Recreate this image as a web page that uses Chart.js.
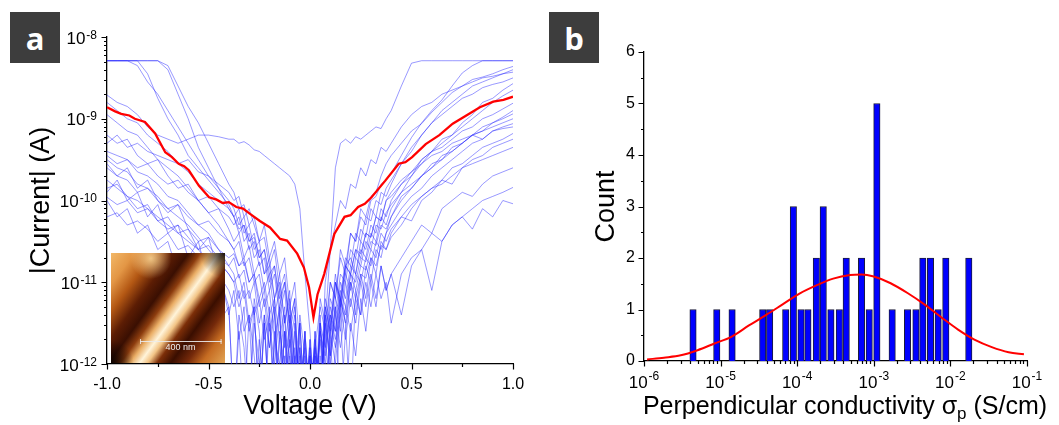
<!DOCTYPE html>
<html lang="en">
<head>
    <meta charset="UTF-8">
    <title>I-V curves and conductivity histogram</title>
    <style>
        body {
            margin: 0;
            background: #ffffff;
        }

        #wrap {
            position: relative;
            width: 1059px;
            height: 425px;
        }

        .panel {
            position: absolute;
            top: 0;
            height: 425px;
        }

        #panelA { left: 0; width: 530px; }
        #panelB { left: 530px; width: 529px; }

        /* the grey letter badges */
        .badge {
            position: absolute;
            top: 12px;
            width: 50px;
            height: 51px;
            background: #3d3d3d;
            color: #ffffff;
            font: bold 31px "Open Sans", sans-serif;
            display: flex;
            align-items: center;
            justify-content: center;
        }
    </style>
    <script src="https://cdn.jsdelivr.net/npm/chart.js"></script>
</head>
<body>
<div id="wrap">
    <div class="panel" id="panelA"><canvas id="chartA"></canvas></div>
    <div class="panel" id="panelB"><canvas id="chartB"></canvas></div>
    <div class="badge" style="left:10px">a</div>
    <div class="badge" style="left:549px">b</div>
</div>

<script>
    // ---------- panel a : |I| vs V, values are log10(|I| / A) ----------
    const voltage = [
        -1, -0.95, -0.9, -0.85, -0.8, -0.75, -0.7, -0.65, -0.6, -0.55, -0.5, -0.45, -0.4,
        -0.375, -0.35, -0.325, -0.3, -0.275, -0.25, -0.225, -0.2, -0.175, -0.15, -0.125, -0.1,
        -0.075, -0.05, -0.025, 0, 0.025, 0.05, 0.075, 0.1, 0.125, 0.15, 0.175, 0.2, 0.225,
        0.25, 0.275, 0.3, 0.325, 0.35, 0.375,
        0.4, 0.45, 0.5, 0.55, 0.6, 0.65, 0.7, 0.75, 0.8, 0.85, 0.9, 0.95, 1
    ];

    // one row per sweep (13 left + 31 middle + 13 right values)
    const ivTraces = [
        [-8.29,-8.29,-8.29,-8.29,-8.45,-8.75,-9.0,-9.2,-9.45,-9.6,-9.75,-9.9,-10.05,
         -10.2,-10.1,-10.4,-10.3,-10.6,-10.5,-10.9,-10.7,-11.2,-10.9,-11.5,-11.1,-12.6,-11.4,-11.9,-12.6,-11.6,-12.6,-11.2,-11.5,-10.9,-11.3,-10.8,-10.7,-10.9,-10.5,-10.6,-10.3,-10.4,-10.1,-10.2,
         -10.0,-9.8,-9.7,-9.5,-9.4,-9.25,-9.2,-9.05,-8.95,-8.8,-8.75,-8.65,-8.57],
        [-8.71,-8.8,-8.85,-8.95,-9.1,-9.2,-9.25,-9.3,-9.25,-9.2,-9.2,-9.22,-9.25,
         -9.25,-9.3,-9.28,-9.32,-9.38,-9.4,-9.45,-9.5,-9.55,-9.6,-9.65,-9.7,-9.8,-10.1,-10.9,-11.6,-12.6,-11.2,-11.5,-10.6,-9.6,-9.3,-9.25,-9.3,-9.22,-9.25,-9.2,-9.15,-9.1,-9.12,-9.0,
         -8.9,-8.6,-8.32,-8.29,-8.29,-8.29,-8.29,-8.29,-8.29,-8.29,-8.29,-8.29,-8.29],
        [-8.29,-8.29,-8.29,-8.29,-8.29,-8.29,-8.35,-8.6,-8.85,-9.05,-9.3,-9.55,-9.8,
         -9.9,-10.1,-10.05,-10.3,-10.2,-10.5,-10.45,-10.8,-10.6,-11.1,-10.9,-11.5,-11.2,-12.6,-11.6,-12.6,-11.8,-11.3,-11.6,-11.0,-11.2,-10.7,-10.9,-10.4,-10.5,-10.2,-10.3,-10.0,-9.95,-9.8,-9.75,
         -9.67,-9.45,-9.23,-9.05,-8.9,-8.77,-8.6,-8.44,-8.35,-8.29,-8.29,-8.29,-8.29],
        [-8.29,-8.29,-8.29,-8.35,-8.55,-8.7,-8.9,-9.1,-9.3,-9.5,-9.7,-9.85,-10.0,
         -10.1,-10.3,-10.2,-10.5,-10.4,-10.7,-10.6,-11.0,-10.8,-11.3,-11.0,-11.6,-11.3,-12.6,-11.7,-12.6,-12.6,-11.5,-11.8,-11.0,-11.2,-10.6,-10.8,-10.4,-10.5,-10.1,-10.2,-9.95,-9.9,-9.7,-9.55,
         -9.45,-9.3,-9.15,-9.06,-8.92,-8.8,-8.68,-8.6,-8.52,-8.49,-8.45,-8.4,-8.36],
        [-9.3,-9.2,-9.35,-9.3,-9.4,-9.45,-9.5,-9.55,-9.5,-9.65,-9.7,-9.8,-9.9,
         -10.0,-9.95,-10.2,-10.1,-10.3,-10.5,-10.3,-10.7,-10.5,-10.9,-10.7,-11.3,-11.0,-11.8,-12.6,-12.6,-11.7,-12.6,-11.0,-10.6,-10.3,-10.0,-10.1,-9.8,-9.85,-9.6,-9.7,-9.5,-9.55,-9.35,-9.4,
         -9.3,-9.1,-8.95,-8.85,-8.8,-8.7,-8.65,-8.6,-8.55,-8.5,-8.48,-8.45,-8.43],
        [-9.4,-9.45,-9.5,-9.6,-9.55,-9.7,-9.8,-9.75,-9.9,-10.0,-9.95,-10.1,-10.2,
         -10.3,-10.2,-10.5,-10.4,-10.7,-10.6,-10.9,-10.8,-11.2,-11.0,-11.5,-11.2,-12.0,-11.5,-12.6,-11.8,-12.6,-11.6,-12.0,-11.3,-11.6,-11.0,-11.2,-10.8,-10.9,-10.6,-10.7,-10.4,-10.5,-10.2,-10.3,
         -10.1,-9.9,-9.7,-9.55,-9.4,-9.3,-9.2,-9.1,-9.0,-8.9,-8.8,-8.72,-8.65],
        [-9.45,-9.55,-9.5,-9.65,-9.7,-9.8,-9.95,-10.0,-10.15,-10.3,-10.4,-10.6,-10.8,
         -10.9,-11.2,-11.0,-11.5,-11.3,-12.6,-11.4,-11.8,-11.2,-12.6,-11.6,-11.9,-12.6,-11.5,-12.6,-12.6,-11.8,-12.6,-11.3,-11.6,-11.0,-11.3,-10.8,-10.9,-10.6,-10.7,-10.4,-10.45,-10.2,-10.25,-10.0,
         -9.95,-9.8,-9.65,-9.5,-9.4,-9.35,-9.25,-9.15,-9.1,-9.0,-8.95,-8.88,-8.81],
        [-9.6,-9.7,-9.75,-9.9,-9.85,-10.0,-10.1,-10.05,-10.2,-10.3,-10.25,-10.4,-10.5,
         -10.6,-10.5,-10.8,-10.7,-11.0,-10.9,-11.3,-11.1,-11.7,-11.3,-12.6,-11.6,-12.6,-11.8,-12.6,-11.9,-12.6,-12.6,-11.5,-11.9,-11.2,-11.4,-10.9,-11.1,-10.7,-10.8,-10.5,-10.6,-10.3,-10.35,-10.15,
         -10.05,-9.9,-9.8,-9.7,-9.55,-9.5,-9.4,-9.3,-9.2,-9.15,-9.05,-9.0,-8.94],
        [-9.75,-9.85,-9.95,-10.0,-10.1,-10.2,-10.3,-10.4,-10.5,-10.6,-10.75,-10.9,-11.1,
         -11.3,-11.1,-11.6,-11.4,-12.6,-11.7,-12.6,-11.5,-12.0,-11.4,-12.6,-11.9,-12.6,-12.6,-11.8,-12.6,-11.7,-12.6,-11.4,-11.9,-11.3,-11.6,-11.0,-11.3,-10.9,-11.0,-10.7,-10.8,-10.5,-10.6,-10.4,
         -10.3,-10.1,-9.95,-9.85,-9.7,-9.6,-9.5,-9.4,-9.3,-9.25,-9.15,-9.1,-9.06],
        [-9.85,-9.8,-9.95,-10.1,-10.05,-10.25,-10.35,-10.3,-10.45,-10.6,-10.55,-10.7,-10.8,
         -10.7,-10.95,-10.85,-11.2,-11.0,-11.5,-11.2,-11.8,-11.4,-12.6,-11.6,-12.6,-11.9,-12.6,-12.6,-11.7,-12.6,-11.9,-12.6,-11.5,-11.8,-11.2,-11.5,-11.0,-11.2,-10.9,-10.95,-10.7,-10.8,-10.55,-10.6,
         -10.45,-10.3,-10.1,-9.95,-9.85,-9.75,-9.6,-9.55,-9.45,-9.35,-9.3,-9.25,-9.18],
        [-10.2,-10.15,-10.3,-10.25,-10.35,-10.5,-10.4,-10.6,-10.55,-10.7,-10.8,-10.75,-10.9,
         -11.0,-10.9,-11.2,-11.1,-11.4,-11.2,-11.7,-11.4,-12.6,-11.6,-12.0,-11.5,-12.6,-11.9,-12.6,-12.6,-11.6,-12.6,-11.8,-11.4,-11.7,-11.2,-11.4,-10.9,-11.1,-10.8,-10.85,-10.6,-10.7,-10.4,-10.5,
         -10.35,-10.2,-10.05,-9.95,-9.85,-9.8,-9.7,-9.6,-9.55,-9.5,-9.45,-9.4,-9.35],
        [-9.5,-9.6,-9.65,-9.8,-9.85,-9.95,-10.1,-10.2,-10.3,-10.45,-10.6,-10.75,-10.9,
         -11.0,-11.3,-11.1,-11.6,-11.3,-12.6,-11.5,-12.6,-11.7,-12.0,-11.4,-12.6,-11.8,-12.6,-12.6,-11.9,-12.6,-11.5,-12.6,-11.6,-12.0,-11.3,-11.7,-11.2,-11.5,-11.0,-11.3,-10.9,-11.2,-10.8,-11.1,
         -10.9,-11.4,-10.8,-10.6,-11.1,-10.5,-10.3,-10.2,-10.1,-10.0,-9.95,-9.9,-9.84],
        [-8.95,-9.05,-9.15,-9.2,-9.35,-9.5,-9.6,-9.7,-9.85,-10.0,-10.15,-10.3,-10.5,
         -10.6,-10.8,-10.7,-11.0,-10.9,-11.3,-11.1,-11.6,-11.3,-12.6,-11.6,-12.6,-12.6,-11.8,-12.6,-11.7,-12.6,-12.6,-11.5,-12.0,-11.4,-11.8,-11.3,-11.6,-11.2,-11.4,-11.0,-11.3,-10.9,-11.2,-11.0,
         -11.5,-10.9,-10.7,-10.6,-10.4,-10.5,-10.3,-10.2,-10.35,-10.1,-10.2,-10.0,-10.04],
        [-9.96,-10.05,-10.0,-10.15,-10.1,-10.25,-10.2,-10.4,-10.35,-10.5,-10.45,-10.6,-10.7,
         -10.65,-10.8,-10.75,-11.0,-10.9,-11.2,-11.0,-11.4,-11.2,-11.7,-11.3,-12.6,-11.6,-12.6,-11.9,-12.6,-11.8,-12.6,-11.3,-11.6,-11.0,-11.2,-10.8,-10.9,-10.6,-10.65,-10.4,-10.45,-10.2,-10.25,-10.0,
         -9.9,-9.75,-9.65,-9.55,-9.45,-9.4,-9.3,-9.25,-9.2,-9.15,-9.1,-9.05,-9.0],
        [-8.29,-8.29,-8.29,-8.29,-8.29,-8.29,-8.4,-8.7,-9.0,-9.35,-9.6,-9.85,-10.1,
         -10.2,-10.4,-10.3,-10.6,-10.5,-10.8,-10.7,-11.1,-10.9,-11.4,-11.1,-11.8,-11.4,-12.6,-12.6,-12.6,-11.9,-12.6,-11.4,-11.7,-11.0,-11.2,-10.7,-10.8,-10.4,-10.5,-10.2,-10.25,-10.0,-10.05,-9.85,
         -9.75,-9.55,-9.35,-9.2,-9.05,-8.95,-8.85,-8.75,-8.7,-8.62,-8.58,-8.55,-8.5],
        [-8.8,-8.9,-9.0,-9.05,-9.2,-9.3,-9.4,-9.55,-9.65,-9.8,-9.9,-10.0,-10.1,
         -10.2,-10.35,-10.3,-10.5,-10.45,-10.7,-10.6,-10.9,-10.8,-11.2,-11.0,-11.5,-11.2,-12.6,-11.6,-12.6,-12.6,-11.7,-12.6,-11.4,-11.6,-11.1,-11.3,-10.9,-11.0,-10.7,-10.75,-10.5,-10.55,-10.3,-10.35,
         -10.2,-9.95,-9.85,-9.7,-9.6,-9.45,-9.4,-9.3,-9.2,-9.25,-9.15,-9.12,-9.1],
        [-10.0,-10.2,-10.1,-10.4,-10.3,-10.6,-10.5,-10.9,-10.7,-11.2,-11.0,-11.5,-11.3,
         -12.6,-11.6,-12.6,-11.4,-11.9,-12.6,-11.5,-12.6,-11.8,-11.3,-12.6,-11.7,-12.6,-12.0,-12.6,-12.6,-11.9,-12.6,-11.6,-12.6,-11.8,-11.4,-12.6,-11.5,-11.9,-11.2,-11.6,-11.0,-11.3,-10.8,-11.1,
         -10.9,-10.7,-10.5,-10.3,-10.4,-10.1,-10.0,-9.9,-9.95,-9.8,-9.7,-9.65,-9.6],
        [-9.9,-9.75,-10.0,-9.9,-10.2,-10.05,-10.4,-10.3,-10.7,-10.5,-11.0,-10.8,-11.4,
         -11.1,-11.7,-11.3,-12.6,-11.5,-12.0,-11.4,-12.6,-11.6,-12.6,-11.9,-12.6,-11.5,-12.6,-12.6,-11.8,-12.6,-11.4,-12.6,-11.9,-11.3,-12.6,-11.6,-11.0,-11.4,-10.9,-11.2,-10.7,-10.9,-10.5,-10.6,
         -10.4,-10.2,-10.25,-10.0,-9.9,-9.75,-9.8,-9.6,-9.5,-9.45,-9.35,-9.3,-9.25],
        [-9.55,-9.7,-9.6,-9.85,-9.75,-10.0,-10.15,-10.05,-10.35,-10.6,-10.45,-10.9,-11.3,
         -12.6,-11.4,-11.8,-12.6,-11.2,-11.6,-12.6,-11.3,-12.6,-11.7,-12.6,-11.4,-12.0,-12.6,-11.6,-12.6,-12.6,-11.5,-12.6,-11.7,-12.6,-11.2,-11.5,-12.6,-11.1,-11.4,-10.8,-11.0,-10.6,-10.7,-10.4,
         -10.2,-10.0,-9.85,-9.7,-9.6,-9.5,-9.35,-9.3,-9.2,-9.1,-9.05,-8.98,-8.9],
        [-9.2,-9.3,-9.25,-9.45,-9.55,-9.5,-9.7,-9.85,-9.8,-10.0,-10.15,-10.1,-10.35,
         -10.5,-10.4,-10.7,-10.55,-10.9,-10.75,-11.1,-10.9,-11.4,-11.1,-11.8,-11.3,-12.6,-11.5,-12.6,-11.9,-12.6,-11.6,-11.9,-11.2,-11.4,-10.9,-11.0,-10.6,-10.7,-10.35,-10.45,-10.1,-10.2,-9.9,-9.95,
         -9.8,-9.55,-9.4,-9.2,-9.05,-8.9,-8.8,-8.7,-8.6,-8.55,-8.5,-8.45,-8.4]
    ];

    // averaged curve (red)
    const avgVoltage = [-1.0, -0.96, -0.93, -0.89, -0.863, -0.813, -0.763, -0.713, -0.68, -0.647,
        -0.62, -0.597, -0.547, -0.497, -0.46, -0.43, -0.40, -0.363, -0.33, -0.297, -0.247, -0.197,
        -0.147, -0.113, -0.063, -0.03, -0.005, 0.017, 0.037, 0.07, 0.12, 0.17, 0.2, 0.237, 0.27,
        0.303, 0.37, 0.437, 0.47, 0.503, 0.57, 0.637, 0.703, 0.77, 0.837, 0.903, 0.953, 1.0];
    const avgLogCurrent = [-8.86, -8.91, -8.94, -8.96, -9.0, -9.04, -9.18, -9.41, -9.47, -9.55,
        -9.58, -9.63, -9.82, -9.96, -9.99, -10.03, -10.02, -10.08, -10.1, -10.16, -10.25, -10.33,
        -10.47, -10.49, -10.65, -10.82, -11.06, -11.43, -11.15, -10.9, -10.41, -10.2, -10.18, -10.08,
        -10.04, -9.96, -9.76, -9.55, -9.53, -9.47, -9.31, -9.2, -9.06, -8.96, -8.86, -8.79, -8.77, -8.73];

    const aVoltTicks = [-1, -0.5, 0, 0.5, 1];
    const aVoltMinor = [-0.75, -0.25, 0.25, 0.75];
    const aCurrentExp = [-12, -11, -10, -9, -8];

    // ---------- panel b : histogram of log10(sigma_p / S cm-1) ----------
    const binLogSigma = [-5.36, -5.05, -4.85, -4.45, -4.36, -4.15, -4.05, -3.95, -3.86, -3.75,
        -3.66, -3.56, -3.45, -3.36, -3.16, -3.06, -2.96, -2.76, -2.56, -2.45, -2.36, -2.26,
        -2.16, -2.06, -1.76];
    const binCount = [1, 1, 1, 1, 1, 1, 3, 1, 1, 2, 3, 1, 1, 2, 2, 1, 5, 1, 1, 1, 2, 2, 1, 2, 2];

    // gaussian fit
    const fitLogSigma = [-5.96, -5.74, -5.52, -5.30, -5.08, -4.86, -4.63, -4.41, -4.19, -3.97,
        -3.75, -3.53, -3.31, -3.16, -3.00, -2.78, -2.56, -2.34, -2.12, -1.90, -1.68, -1.46,
        -1.24, -1.04];
    const fitCount = [0.03, 0.065, 0.11, 0.21, 0.34, 0.47, 0.69, 0.89, 1.10, 1.31, 1.47, 1.60,
        1.67, 1.68, 1.64, 1.51, 1.32, 1.10, 0.85, 0.61, 0.41, 0.27, 0.17, 0.13];

    const bCountTicks = [0, 1, 2, 3, 4, 5, 6];
    const bSigmaExp = [-6, -5, -4, -3, -2, -1];

    const FONT = 'Arial, "Liberation Sans", Helvetica, sans-serif';
    Chart.defaults.font.family = FONT;
    Chart.defaults.color = '#000';

    // small helpers for the outward tick marks and the 10^n labels
    function tickMarks(ctx, scale, area, values, len) {
        ctx.save();
        ctx.strokeStyle = '#000';
        ctx.lineWidth = 1.2;
        ctx.beginPath();
        values.forEach(v => {
            const p = Math.round(scale.getPixelForValue(v)) + 0.5;
            if (scale.isHorizontal()) {
                ctx.moveTo(p, area.bottom);
                ctx.lineTo(p, area.bottom + len);
            } else {
                ctx.moveTo(area.left, p);
                ctx.lineTo(area.left - len, p);
            }
        });
        ctx.stroke();
        ctx.restore();
    }

    function logMinors(fromExp, toExp) {
        const out = [];
        for (let e = fromExp; e < toExp; e++) {
            for (let k = 2; k <= 9; k++) out.push(k * Math.pow(10, e));
        }
        return out;
    }

    function powLabel(ctx, text, x, y, mode) {
        // mode 'right': right edge at x, y = tick; mode 'center': centred at x, y = axis line
        ctx.save();
        ctx.fillStyle = '#000';
        ctx.textBaseline = 'alphabetic';
        ctx.textAlign = 'left';
        ctx.font = '17px ' + FONT;
        const wb = ctx.measureText('10').width;
        ctx.font = '12px ' + FONT;
        const we = ctx.measureText(text).width;
        let x0, yb, ye;
        if (mode === 'right') {
            x0 = x - wb - we - 1;
            yb = y + 6.5;
            ye = y + 1.5;
        } else {
            x0 = x - (wb + we + 1) / 2;
            yb = y + 27;
            ye = y + 19;
        }
        ctx.font = '17px ' + FONT;
        ctx.fillText('10', x0, yb);
        ctx.font = '12px ' + FONT;
        ctx.fillText(text, x0 + wb + 1, ye);
        ctx.restore();
    }

    // AFM inset picture (a nanowire on a substrate)
    function drawInset(ctx, x0, y0, w, h) {
        ctx.save();
        ctx.beginPath();
        ctx.rect(x0, y0, w, h);
        ctx.clip();
        const nx = h, ny = 0.7 * w, nl = Math.hypot(nx, ny);
        const L = (nx * w + ny * h) / nl;
        const g = ctx.createLinearGradient(x0, y0, x0 + nx / nl * L, y0 + ny / nl * L);
        g.addColorStop(0.00, '#f2b868');
        g.addColorStop(0.12, '#e39645');
        g.addColorStop(0.22, '#b45814');
        g.addColorStop(0.32, '#5c1d04');
        g.addColorStop(0.40, '#3a0f02');
        g.addColorStop(0.46, '#8c3c0e');
        g.addColorStop(0.51, '#eaae66');
        g.addColorStop(0.56, '#fff4da');
        g.addColorStop(0.60, '#f2c486');
        g.addColorStop(0.65, '#7c2e08');
        g.addColorStop(0.72, '#3a0e00');
        g.addColorStop(0.80, '#74290a');
        g.addColorStop(0.88, '#c66c22');
        g.addColorStop(1.00, '#e2a454');
        ctx.fillStyle = g;
        ctx.fillRect(x0, y0, w, h);

        // dark corners
        let r = ctx.createRadialGradient(x0 + w, y0, 0, x0 + w, y0, w * 0.22);
        r.addColorStop(0, 'rgba(10,2,0,0.95)');
        r.addColorStop(1, 'rgba(10,2,0,0)');
        ctx.fillStyle = r;
        ctx.fillRect(x0, y0, w, h);
        r = ctx.createRadialGradient(x0, y0 + h, 0, x0, y0 + h, w * 0.2);
        r.addColorStop(0, 'rgba(10,2,0,0.95)');
        r.addColorStop(1, 'rgba(10,2,0,0)');
        ctx.fillStyle = r;
        ctx.fillRect(x0, y0, w, h);
        // light patch near the top
        r = ctx.createRadialGradient(x0 + 0.35 * w, y0 + 0.05 * h, 0, x0 + 0.35 * w, y0 + 0.05 * h, w * 0.18);
        r.addColorStop(0, 'rgba(255,225,160,0.8)');
        r.addColorStop(1, 'rgba(255,225,160,0)');
        ctx.fillStyle = r;
        ctx.fillRect(x0, y0, w, h);

        // scale bar
        const yb = y0 + 0.8 * h;
        ctx.strokeStyle = 'rgba(235,235,235,0.9)';
        ctx.lineWidth = 1;
        ctx.beginPath();
        ctx.moveTo(x0 + 0.255 * w, yb + 0.5);
        ctx.lineTo(x0 + 0.97 * w, yb + 0.5);
        ctx.moveTo(x0 + 0.255 * w + 0.5, yb - 2);
        ctx.lineTo(x0 + 0.255 * w + 0.5, yb + 3);
        ctx.moveTo(x0 + 0.97 * w - 0.5, yb - 2);
        ctx.lineTo(x0 + 0.97 * w - 0.5, yb + 3);
        ctx.stroke();
        ctx.fillStyle = '#f0f0f0';
        ctx.font = '9px ' + FONT;
        ctx.textAlign = 'center';
        ctx.textBaseline = 'middle';
        ctx.fillText('400 nm', x0 + 0.61 * w, y0 + 0.86 * h);
        ctx.restore();
    }

    // ---------- chart a ----------
    const panelADecor = {
        id: 'panelADecor',
        afterDatasetsDraw(chart) {
            const x = chart.scales.x, y = chart.scales.y;
            const l = x.getPixelForValue(-0.98), r = x.getPixelForValue(-0.42);
            const t = y.getPixelForValue(Math.pow(10, -10.64));
            const b = y.getPixelForValue(Math.pow(10, -11.985));
            drawInset(chart.ctx, Math.round(l), Math.round(t), Math.round(r - l), Math.round(b - t));
        },
        afterDraw(chart) {
            const ctx = chart.ctx, area = chart.chartArea;
            const x = chart.scales.x, y = chart.scales.y;
            tickMarks(ctx, x, area, aVoltTicks, 5.5);
            tickMarks(ctx, x, area, aVoltMinor, 3);
            tickMarks(ctx, y, area, aCurrentExp.map(e => Math.pow(10, e)), 5.5);
            tickMarks(ctx, y, area, logMinors(-12, -8), 3);
            aCurrentExp.forEach(e => {
                powLabel(ctx, String(e), area.left - 10, y.getPixelForValue(Math.pow(10, e)), 'right');
            });
        }
    };

    const traceSets = ivTraces.map(t => ({
        data: t.map((e, i) => ({ x: voltage[i], y: Math.pow(10, e) })),
        borderColor: 'rgba(40,40,255,0.6)',
        borderWidth: 0.8,
        pointRadius: 0
    }));

    const avgSet = {
        data: avgLogCurrent.map((e, i) => ({ x: avgVoltage[i], y: Math.pow(10, e) })),
        borderColor: '#ff0000',
        borderWidth: 2.3,
        pointRadius: 0
    };

    new Chart(document.getElementById('chartA'), {
        type: 'line',
        data: { datasets: [avgSet, ...traceSets] },
        options: {
            responsive: true,
            maintainAspectRatio: false,
            animation: false,
            layout: { padding: { left: 0, right: 17, top: 37, bottom: 0 } },
            plugins: { legend: { display: false }, tooltip: { enabled: false } },
            elements: { line: { tension: 0 } },
            scales: {
                x: {
                    type: 'linear',
                    min: -1,
                    max: 1,
                    afterFit: s => { s.height = 61; s.paddingLeft = 0; s.paddingRight = 0; },
                    grid: { display: false, drawTicks: false },
                    border: { display: true, color: '#000', width: 1.3 },
                    ticks: {
                        stepSize: 0.5,
                        padding: 11,
                        maxRotation: 0,
                        autoSkip: false,
                        font: { size: 16 },
                        callback: v => v.toFixed(1)
                    },
                    title: {
                        display: true,
                        text: 'Voltage (V)',
                        font: { size: 27 },
                        padding: { top: 0, bottom: 2 }
                    }
                },
                y: {
                    type: 'logarithmic',
                    min: 1e-12,
                    max: 1e-8,
                    afterFit: s => { s.width = 107; s.paddingTop = 0; s.paddingBottom = 0; },
                    grid: { display: false, drawTicks: false },
                    border: { display: true, color: '#000', width: 1.3 },
                    ticks: { display: false },
                    title: {
                        display: true,
                        text: '|Current| (A)',
                        font: { size: 27 },
                        padding: { top: 25, bottom: 0 }
                    }
                }
            }
        },
        plugins: [panelADecor]
    });

    // ---------- chart b ----------
    const panelBDecor = {
        id: 'panelBDecor',
        afterDraw(chart) {
            const ctx = chart.ctx, area = chart.chartArea;
            const x = chart.scales.x, y = chart.scales.y;
            tickMarks(ctx, x, area, bSigmaExp.map(e => Math.pow(10, e)), 5.5);
            tickMarks(ctx, x, area, logMinors(-6, -1), 3);
            tickMarks(ctx, y, area, bCountTicks, 5.5);
            tickMarks(ctx, y, area, bCountTicks.slice(1).map(v => v - 0.5), 3);
            bSigmaExp.forEach(e => {
                powLabel(ctx, String(e), x.getPixelForValue(Math.pow(10, e)), area.bottom, 'center');
            });

            // axis title with a subscript p
            ctx.save();
            ctx.fillStyle = '#000';
            ctx.textBaseline = 'alphabetic';
            ctx.textAlign = 'left';
            const part1 = 'Perpendicular conductivity \u03c3';
            const part2 = 'p';
            const part3 = ' (S/cm)';
            ctx.font = '25px ' + FONT;
            const w1 = ctx.measureText(part1).width;
            const w3 = ctx.measureText(part3).width;
            ctx.font = '17px ' + FONT;
            const w2 = ctx.measureText(part2).width;
            const total = w1 + w2 + w3;
            const cx = 315, base = 414;
            const xs = cx - total / 2;
            ctx.font = '25px ' + FONT;
            ctx.fillText(part1, xs, base);
            ctx.font = '17px ' + FONT;
            ctx.fillText(part2, xs + w1, base + 5);
            ctx.font = '25px ' + FONT;
            ctx.fillText(part3, xs + w1 + w2, base);
            ctx.restore();
        }
    };

    new Chart(document.getElementById('chartB'), {
        type: 'bar',
        data: {
            datasets: [
                {
                    type: 'line',
                    data: fitLogSigma.map((e, i) => ({ x: Math.pow(10, e), y: fitCount[i] })),
                    borderColor: '#ff0000',
                    borderWidth: 2,
                    pointRadius: 0,
                    cubicInterpolationMode: 'monotone'
                },
                {
                    type: 'bar',
                    data: binLogSigma.map((e, i) => ({ x: Math.pow(10, e), y: binCount[i] })),
                    backgroundColor: '#0000ff',
                    borderColor: '#1c1c3a',
                    borderWidth: 1,
                    barThickness: 6.4
                }
            ]
        },
        options: {
            responsive: true,
            maintainAspectRatio: false,
            animation: false,
            layout: { padding: { left: 0, right: 32, top: 52, bottom: 0 } },
            plugins: { legend: { display: false }, tooltip: { enabled: false } },
            scales: {
                x: {
                    type: 'logarithmic',
                    min: 1e-6,
                    max: 1e-1,
                    offset: false,
                    afterFit: s => { s.height = 64; s.paddingLeft = 0; s.paddingRight = 0; },
                    grid: { display: false, drawTicks: false, offset: false },
                    border: { display: true, color: '#000', width: 1.3 },
                    ticks: { display: false }
                },
                y: {
                    type: 'linear',
                    min: 0,
                    max: 6,
                    afterFit: s => { s.width = 114; s.paddingTop = 0; s.paddingBottom = 0; },
                    grid: { display: false, drawTicks: false },
                    border: { display: true, color: '#000', width: 1.3 },
                    ticks: { stepSize: 1, padding: 9, font: { size: 16 } },
                    title: {
                        display: true,
                        text: 'Count',
                        font: { size: 27 },
                        padding: { top: 60, bottom: 0 }
                    }
                }
            }
        },
        plugins: [panelBDecor]
    });
</script>
</body>
</html>
